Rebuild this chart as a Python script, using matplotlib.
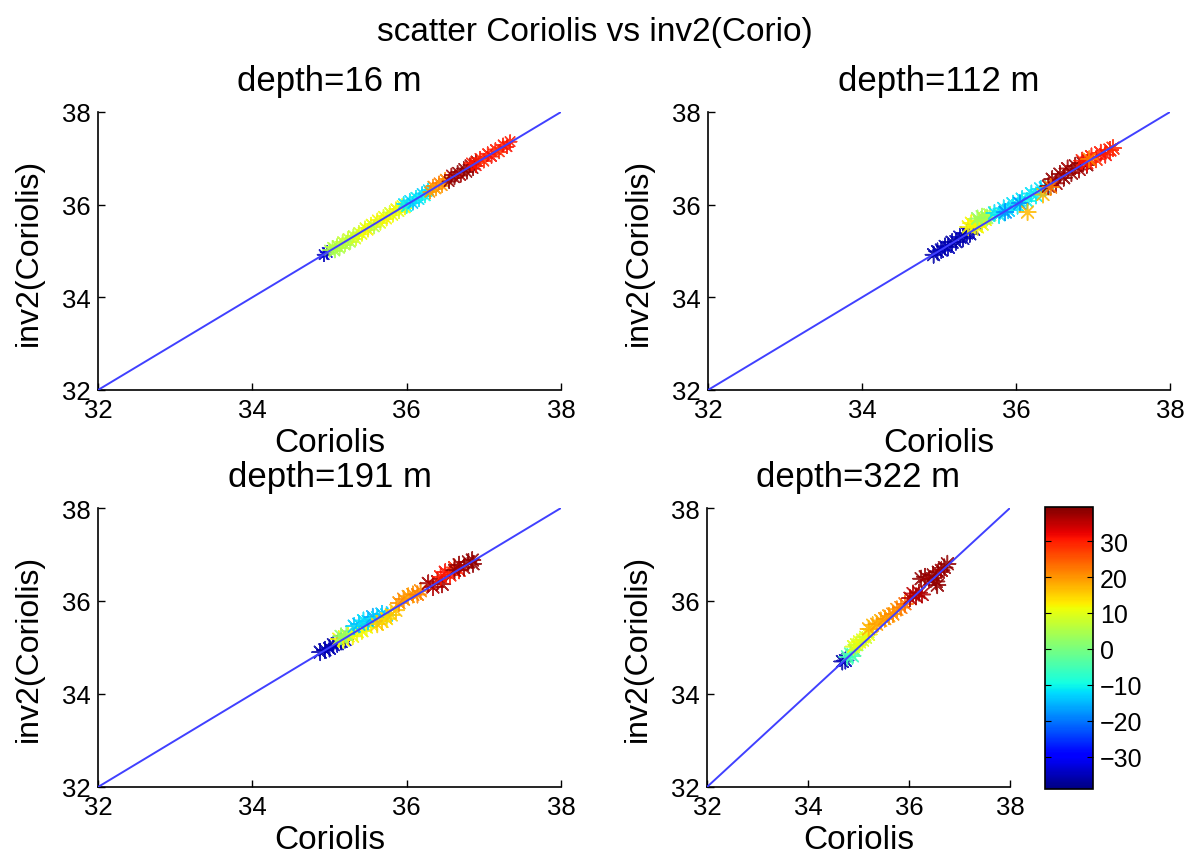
import numpy as np
import matplotlib
matplotlib.use("Agg")
import matplotlib.pyplot as plt

plt.rcParams['font.family'] = ['Liberation Sans', 'DejaVu Sans']

suptitle = "scatter Coriolis vs inv2(Corio)"
titles = ["depth=16 m", "depth=112 m", "depth=191 m", "depth=322 m"]
xlabel = "Coriolis"
ylabel = "inv2(Coriolis)"
ticks = [32, 34, 36, 38]
cbar_ticks = [-30, -20, -10, 0, 10, 20, 30]
cmin, cmax = -39, 39.5

# depth=16 m
x16 = [34.93, 34.97,
       35.00, 35.04, 35.07, 35.10, 35.13, 35.17, 35.20, 35.24, 35.27, 35.31, 35.34, 35.38,
       35.42, 35.46, 35.50, 35.54, 35.58, 35.62, 35.66, 35.70, 35.74, 35.78, 35.82, 35.86, 35.90, 35.94, 35.98,
       35.96, 36.00, 36.04, 36.08, 36.12, 36.16, 36.20, 36.24, 36.28,
       36.30, 36.34, 36.38, 36.42, 36.46, 36.50,
       36.55, 36.58, 36.62, 36.66, 36.70, 36.74, 36.78, 36.82, 36.86, 36.90,
       36.84, 36.90, 36.95, 37.00, 37.05, 37.10, 37.15, 37.20, 37.25, 37.30, 37.34]
y16 = [34.92, 34.97,
       35.02, 35.08, 35.00, 35.12, 35.06, 35.20, 35.13, 35.27, 35.19, 35.33, 35.26, 35.40,
       35.36, 35.50, 35.45, 35.58, 35.52, 35.67, 35.60, 35.75, 35.69, 35.83, 35.77, 35.91, 35.85, 35.98, 35.93,
       36.02, 35.96, 36.09, 36.03, 36.16, 36.11, 36.24, 36.19, 36.32,
       36.27, 36.40, 36.34, 36.47, 36.41, 36.55,
       36.50, 36.64, 36.58, 36.70, 36.63, 36.78, 36.70, 36.86, 36.78, 36.94,
       36.90, 36.84, 37.00, 36.94, 37.10, 37.04, 37.19, 37.14, 37.29, 37.25, 37.36]
c16 = [-35, -33,
       5, 6, 4, 6, 5, 7, 6, 8, 5, 7, 9, 8,
       11, 10, 12, 11, 6, 12, 10, 11, 12, 9, 11, 12, 10, 11, 12,
       -12, -10, -12, -14, -11, -12, -13, -10, -12,
       20, 21, 19, 22, 20, 21,
       38, 37, 38, 38, 37, 38, 38, 37, 38, 38,
       30, 31, 30, 29, 30, 31, 30, 29, 30, 31, 30]

# depth=112 m
x112 = [34.93, 34.98, 35.03, 35.08, 35.12, 35.17, 35.22, 35.27, 35.31, 35.36, 35.40, 35.45,
        35.38, 35.42, 35.47, 35.52, 35.56, 35.60, 35.50,
        35.50, 35.56, 35.62, 35.66,
        35.72, 35.78, 35.84, 35.90, 35.96, 36.02, 36.08, 36.14, 36.20, 36.26, 36.32, 36.38,
        35.86, 36.05,
        36.15, 36.35,
        36.42, 36.47, 36.52, 36.57, 36.62, 36.67, 36.72, 36.77, 36.82, 36.87, 36.92,
        36.86, 36.92, 36.98, 37.04, 37.10, 37.16, 37.22, 37.26,
        36.45, 36.95]
y112 = [34.92, 34.99, 35.02, 35.10, 35.08, 35.19, 35.20, 35.30, 35.27, 35.39, 35.37, 35.47,
        35.52, 35.60, 35.55, 35.65, 35.58, 35.68, 35.52,
        35.70, 35.74, 35.72, 35.78,
        35.82, 35.78, 35.92, 35.88, 36.02, 35.98, 36.12, 36.08, 36.24, 36.20, 36.34, 36.36,
        35.84, 36.03,
        35.84, 36.22,
        36.40, 36.55, 36.46, 36.66, 36.58, 36.78, 36.68, 36.84, 36.76, 36.90, 36.86,
        36.95, 36.90, 37.04, 36.98, 37.12, 37.08, 37.18, 37.22,
        36.38, 36.98]
c112 = [-36, -36, -35, -36, -35, -36, -36, -35, -36, -35, -36, -34,
        12, 12, 11, 12, 10, 12, 12,
        3, 4, 3, 5,
        -12, -11, -12, -13, -12, -11, -12, -10, -12, -11, -12, -13,
        -18, -18,
        17, 17,
        38, 38, 37, 38, 38, 37, 38, 38, 37, 38, 38,
        30, 31, 30, 29, 30, 31, 30, 29,
        22, 22]

# depth=191 m
x191 = [34.88, 34.94, 35.00, 35.05, 35.10, 35.15, 35.20,
        35.12, 35.18, 35.24, 35.30, 35.36, 35.42, 35.48, 35.54,
        35.15, 35.22,
        35.32, 35.38, 35.44, 35.50, 35.56, 35.62, 35.68, 35.74,
        35.62, 35.68, 35.74, 35.80, 35.86,
        35.90, 35.96, 36.02, 36.08, 36.14, 36.18,
        36.28, 36.34, 36.40, 36.46,
        36.44, 36.50, 36.56, 36.62, 36.68,
        36.62, 36.68, 36.74, 36.80, 36.86, 36.85]
y191 = [34.90, 34.95, 34.98, 35.06, 35.08, 35.13, 35.17,
        35.18, 35.16, 35.25, 35.24, 35.34, 35.36, 35.44, 35.50,
        35.24, 35.28,
        35.46, 35.50, 35.58, 35.56, 35.66, 35.64, 35.72, 35.70,
        35.50, 35.56, 35.62, 35.70, 35.80,
        35.96, 36.04, 36.10, 36.14, 36.14, 36.22,
        36.38, 36.30, 36.42, 36.36,
        36.52, 36.62, 36.56, 36.72, 36.66,
        36.66, 36.78, 36.72, 36.84, 36.80, 36.88]
c191 = [-36, -36, -35, -36, -35, -36, -34,
        12, 11, 12, 12, 10, 12, 11, 12,
        2, 3,
        -13, -14, -12, -13, -16, -12, -14, -13,
        15, 16, 14, 15, 16,
        20, 21, 19, 20, 22, 21,
        37, 36, 37, 37,
        30, 31, 30, 29, 30,
        38, 38, 37, 38, 38, 38]

# depth=322 m
x322 = [34.68, 34.74,
        34.78, 34.84, 34.88, 34.92,
        34.90, 34.96, 35.02, 35.08, 35.14, 35.20,
        35.20, 35.28, 35.36, 35.44, 35.52, 35.60, 35.68, 35.76, 35.84, 35.92,
        36.02, 36.08, 36.14, 36.20, 36.26,
        36.24, 36.32, 36.40, 36.48, 36.54, 36.58, 36.64, 36.70, 36.76, 36.56]
y322 = [34.70, 34.72,
        34.80, 34.86, 34.82, 34.94,
        35.02, 35.06, 35.12, 35.16, 35.22, 35.28,
        35.40, 35.48, 35.50, 35.58, 35.62, 35.68, 35.72, 35.82, 35.86, 35.94,
        36.06, 36.16, 36.10, 36.18, 36.14,
        36.48, 36.52, 36.46, 36.56, 36.42, 36.62, 36.66, 36.72, 36.80, 36.34]
c322 = [-36, -35,
        -5, -4, -6, -3,
        10, 9, 11, 10, 8, 11,
        18, 17, 19, 18, 20, 19, 21, 20, 22, 23,
        36, 35, 36, 37, 36,
        38, 38, 37, 38, 38, 38, 37, 38, 38, 38]

data = [(x16, y16, c16), (x112, y112, c112), (x191, y191, c191), (x322, y322, c322)]

W, H = 1189, 854
fig = plt.figure(figsize=(W / 100, H / 100), dpi=100)
positions = [
    [98 / W, 1 - 391 / H, 463 / W, 278 / H],
    [708 / W, 1 - 391 / H, 462 / W, 278 / H],
    [98 / W, 1 - 788 / H, 463 / W, 279 / H],
    [707 / W, 1 - 788 / H, 303 / W, 279 / H],
]
marker_sizes = [90, 140, 140, 140]

asterisk = (8, 2, 0)
sc = None
for pos, title, (xs, ys, cs), ms in zip(positions, titles, data, marker_sizes):
    ax = fig.add_axes(pos)
    sc = ax.scatter(xs, ys, c=cs, cmap='jet', vmin=cmin, vmax=cmax, marker=asterisk,
                    s=ms, linewidths=1.1, alpha=0.85, zorder=2)
    ax.plot([32, 38], [32, 38], color=(0.25, 0.25, 1.0), lw=1.4, zorder=3)
    ax.set_xlim(32, 38)
    ax.set_ylim(32, 38)
    ax.set_xticks(ticks)
    ax.set_yticks(ticks)
    ax.spines['top'].set_visible(False)
    ax.spines['right'].set_visible(False)
    for s in ['left', 'bottom']:
        ax.spines[s].set_linewidth(1.2)
    ax.tick_params(direction='in', length=5, width=1, labelsize=18.5)
    ax.tick_params(axis='x', pad=6)
    ax.tick_params(axis='y', pad=5)
    ax.set_xlabel(xlabel, fontsize=24, labelpad=3.5)
    ax.set_ylabel(ylabel, fontsize=23, labelpad=13)
    ax.set_title(title, fontsize=25, pad=16)

cax = fig.add_axes([1045 / W, 1 - 790 / H, 48 / W, 282 / H])
cb = fig.colorbar(sc, cax=cax)
cb.solids.set_alpha(1)
cb.set_ticks(cbar_ticks)
cb.ax.set_yticklabels([str(t).replace('-', '\u2212') for t in cbar_ticks])
cax.tick_params(direction='in', length=4, labelsize=18, left=True, right=True, pad=5)
cb.outline.set_linewidth(1.2)

fig.suptitle(suptitle, fontsize=24, y=1 - 32 / H, va='center')

fig.savefig("out.png", dpi=100)
